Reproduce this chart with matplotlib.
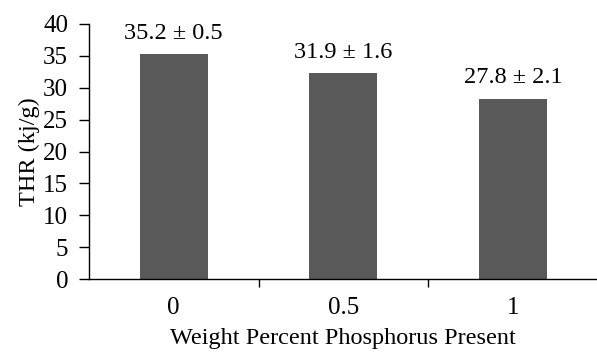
import matplotlib.pyplot as plt
import numpy as np

categories = ["0", "0.5", "1"]
thr = [35.3, 32.3, 28.3]
labels = ["35.2 \u00b1 0.5", "31.9 \u00b1 1.6", "27.8 \u00b1 2.1"]

plt.rcParams['font.family'] = ['Liberation Serif', 'DejaVu Serif']

fig = plt.figure(figsize=(5.97, 3.52), dpi=100)
ax = fig.add_axes([0.149, 0.207, 0.852, 0.725])

x = np.arange(len(categories))
ax.bar(x, thr, width=0.4, color='#595959', edgecolor='none')
for xi, v, lab in zip(x, thr, labels):
    ax.text(xi, v + 1.6, lab, ha='center', va='bottom', fontsize=17.5)

ax.set_xlim(-0.5, 2.5)
ax.set_ylim(0, 40)
ax.set_yticks(range(0, 41, 5))
ax.set_xticks(x)
ax.set_xticklabels(categories)
ax.set_xticks([0.5, 1.5], minor=True)
ax.tick_params(axis='x', which='major', length=0, pad=13, labelsize=18)
ax.tick_params(axis='x', which='minor', length=6, width=1, direction='out')
ax.tick_params(axis='y', length=7, width=1, direction='out', labelsize=18, pad=8)
ax.spines['top'].set_visible(False)
ax.spines['right'].set_visible(False)
ax.spines['left'].set_linewidth(1)
ax.spines['bottom'].set_linewidth(1)
ax.set_ylabel("THR (kj/g)", fontsize=17.5, labelpad=2)
ax.set_xlabel("Weight Percent Phosphorus Present", fontsize=17.5, labelpad=6)

fig.savefig("out.png", dpi=100)
